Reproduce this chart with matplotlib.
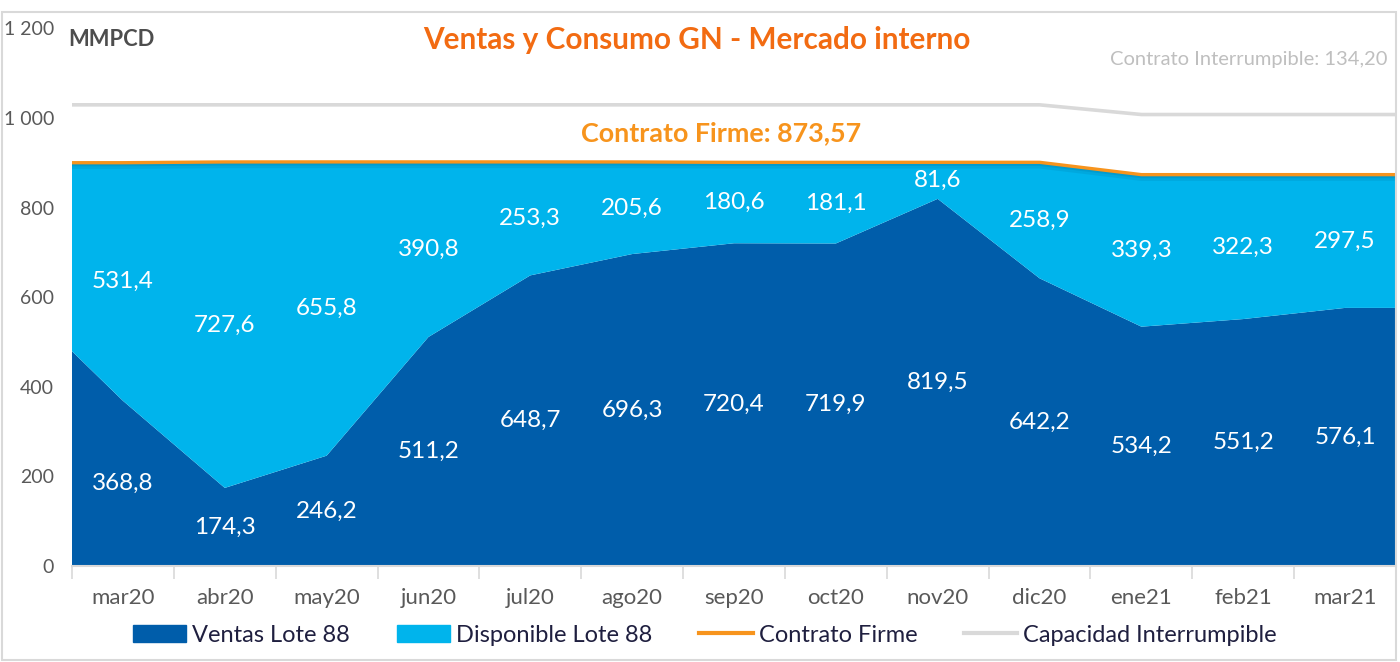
import matplotlib.pyplot as plt
from matplotlib.patches import Rectangle, Patch
from matplotlib.lines import Line2D
import numpy as np

plt.rcParams['font.family'] = ['Lato', 'DejaVu Sans']

months = ["mar20", "abr20", "may20", "jun20", "jul20", "ago20", "sep20",
          "oct20", "nov20", "dic20", "ene21", "feb21", "mar21"]
ventas = [368.8, 174.3, 246.2, 511.2, 648.7, 696.3, 720.4, 719.9, 819.5, 642.2, 534.2, 551.2, 576.1]
disponible = [531.4, 727.6, 655.8, 390.8, 253.3, 205.6, 180.6, 181.1, 81.6, 258.9, 339.3, 322.3, 297.5]
firme = [900.2, 901.9, 902.0, 902.0, 902.0, 901.9, 901.0, 901.0, 901.1, 901.1, 873.57, 873.57, 873.57]
interrumpible = [1029.4] * 10 + [1007.77] * 3
# months just outside the visible range (clipped at the plot edges)
ventas_edges = [590.0, 576.1]
firme_edges = [900.2, 873.57]
interr_edges = [1029.4, 1007.77]

DARK = "#005DAA"
LIGHT = "#00B4EC"
ORANGE = "#F7941D"
GRAY = "#D9D9D9"
TXT = "#595959"

n = len(months)
x = np.arange(-1, n + 1)
v = np.array([ventas_edges[0]] + ventas + [ventas_edges[1]])
tot = np.array([firme_edges[0]] + [a + b for a, b in zip(ventas, disponible)] + [firme_edges[1]])
fir = np.array([firme_edges[0]] + firme + [firme_edges[1]])
itr = np.array([interr_edges[0]] + interrumpible + [interr_edges[1]])

fig = plt.figure(figsize=(14, 6.62), dpi=100)
ax = fig.add_axes([72 / 1400, 96 / 662, (1396 - 72) / 1400, (566 - 28.4) / 662])

ax.fill_between(x, 0, v, color=DARK, lw=0, zorder=2)
ax.fill_between(x, v, tot, color=LIGHT, lw=0, zorder=2)
# soft shadow under the top edge
for d, a in [(14, 0.25), (8, 0.35), (4, 0.45)]:
    ax.fill_between(x, np.maximum(tot - d, v), tot, color="#0088B8", alpha=a, lw=0, zorder=3)
ax.plot(x, fir, color=ORANGE, lw=2.4, zorder=4, solid_capstyle="butt")
ax.plot(x, itr, color=GRAY, lw=2.6, zorder=4, solid_capstyle="butt")

for i in range(n):
    ax.text(i, ventas[i] / 2, f"{ventas[i]:.1f}".replace(".", ","), color="white",
            ha="center", va="center", fontsize=17.5, zorder=5)
    ax.text(i, ventas[i] + disponible[i] / 2, f"{disponible[i]:.1f}".replace(".", ","),
            color="white", ha="center", va="center", fontsize=17.5, zorder=5)

ax.set_xlim(-0.5, n - 0.5)
ax.set_ylim(0, 1200)
ax.set_xticks(range(n))
ax.set_xticklabels(months)
ax.set_xticks(np.arange(-0.5, n, 1), minor=True)
ax.tick_params(axis="x", which="major", length=0, pad=16, labelsize=16, labelcolor=TXT)
ax.tick_params(axis="x", which="minor", length=9, color=GRAY, width=1.2)
ax.set_yticks(range(0, 1201, 200))
ax.set_yticklabels([f"{t:,}".replace(",", " ") for t in range(0, 1201, 200)])
ax.tick_params(axis="y", length=0, pad=13, labelsize=14, labelcolor=TXT)
for s in ["top", "right", "left"]:
    ax.spines[s].set_visible(False)
ax.spines["bottom"].set_color(GRAY)
ax.spines["bottom"].set_linewidth(1.5)
ax.spines["bottom"].set_zorder(6)

fig.text(68 / 1400, 1 - 40 / 662, "MMPCD", fontsize=15.8, fontweight="bold",
         color="#4D4D4D", va="center", ha="left")
fig.text(697 / 1400, 1 - 40 / 662, "Ventas y Consumo GN - Mercado interno", fontsize=21.4,
         fontweight="bold", color="#F26B12", va="center", ha="center")
fig.text(1388 / 1400, 1 - 60 / 662, "Contrato Interrumpible: 134,20", fontsize=14.5,
         color="#BFBFBF", va="center", ha="right")
fig.text(721 / 1400, 1 - 133 / 662, "Contrato Firme: 873,57", fontsize=19.4,
         fontweight="bold", color=ORANGE, va="center", ha="center")

handles = [Patch(color=DARK), Patch(color=LIGHT),
           Line2D([], [], color=ORANGE, lw=3), Line2D([], [], color=GRAY, lw=3)]
labels = ["Ventas Lote 88", "Disponible Lote 88", "Contrato Firme", "Capacidad Interrumpible"]
leg = fig.legend(handles, labels, loc="center", bbox_to_anchor=(705 / 1400, 1 - 635 / 662),
                 ncol=4, frameon=False, fontsize=17, handlelength=2.25, handleheight=0.7,
                 handletextpad=0.25, columnspacing=2.0)
for t in leg.get_texts():
    t.set_color("#1F1F3F")

fig.patches.append(Rectangle((2 / 1400, 2 / 662), 1394 / 1400, 648 / 662,
                             transform=fig.transFigure, fill=False,
                             edgecolor="#D9D9D9", lw=1.5))

fig.savefig("out.png", dpi=100)
